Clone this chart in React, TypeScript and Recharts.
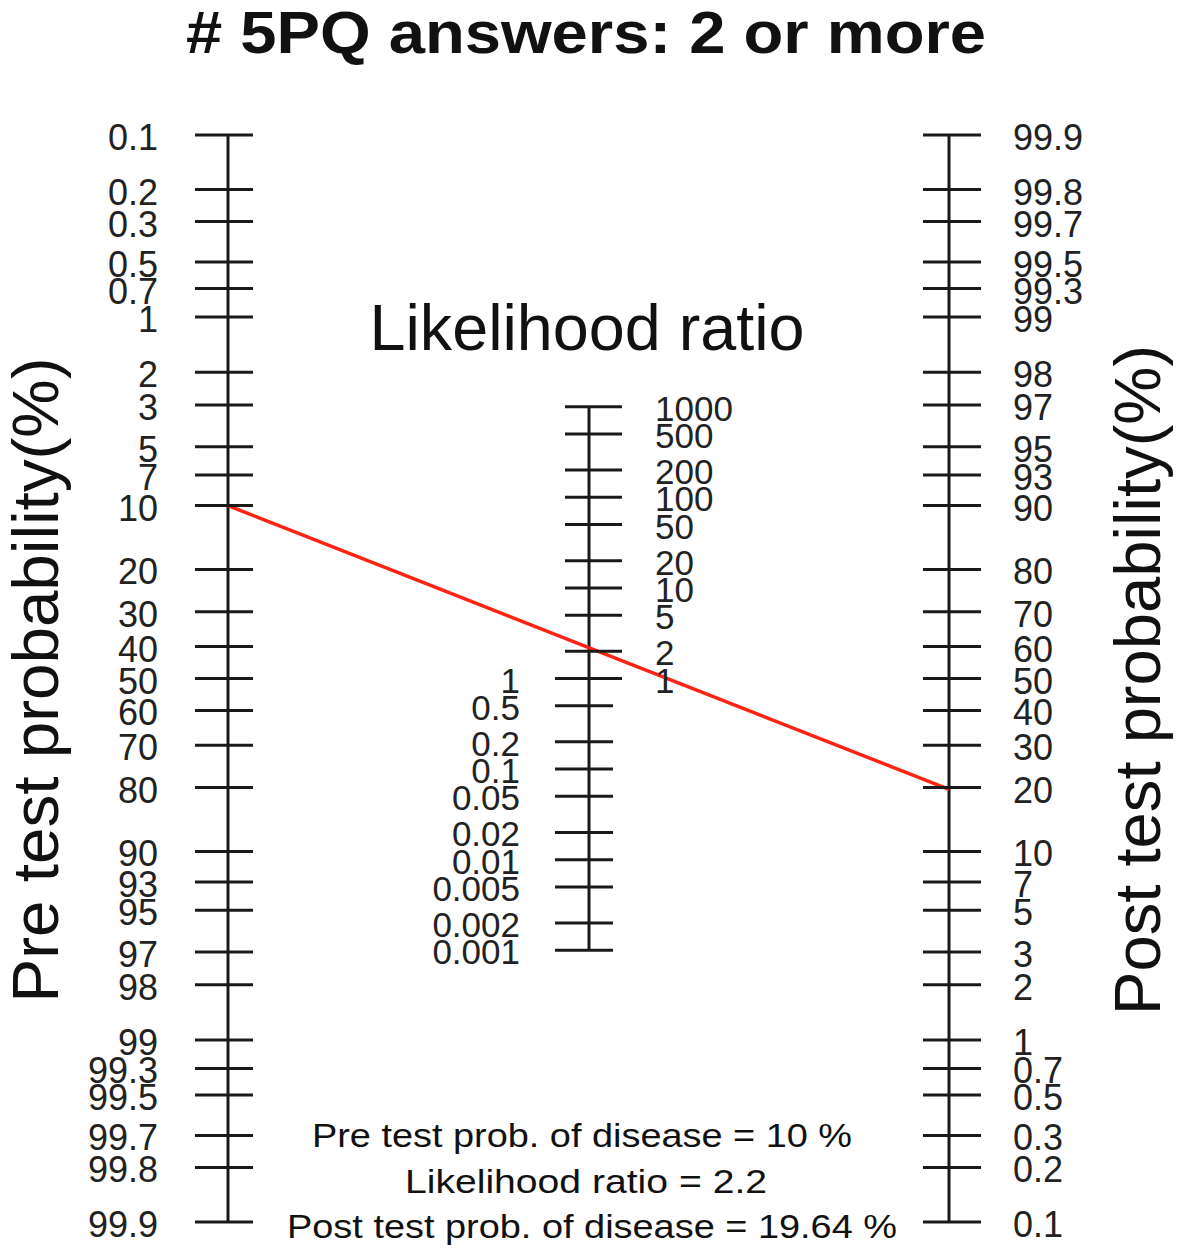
import React from 'react';
import {
  ComposedChart,
  XAxis,
  YAxis,
  Scatter,
  Line,
  ReferenceLine,
  Customized,
} from 'recharts';

// tick values on the three scales
const preTicks = [0.1, 0.2, 0.3, 0.5, 0.7, 1, 2, 3, 5, 7, 10, 20, 30, 40, 50, 60, 70, 80, 90, 93, 95, 97, 98, 99, 99.3, 99.5, 99.7, 99.8, 99.9];
const postTicks = [99.9, 99.8, 99.7, 99.5, 99.3, 99, 98, 97, 95, 93, 90, 80, 70, 60, 50, 40, 30, 20, 10, 7, 5, 3, 2, 1, 0.7, 0.5, 0.3, 0.2, 0.1];
const lrUpperTicks = [1000, 500, 200, 100, 50, 20, 10, 5, 2, 1];
const lrLowerTicks = [1, 0.5, 0.2, 0.1, 0.05, 0.02, 0.01, 0.005, 0.002, 0.001];

// the case drawn on the nomogram
const preTestProb = 10;
const likelihoodRatio = 2.2;
const postTestProb = 19.64;

const W = 1181;
const H = 1252;
const FONT = '"Liberation Sans", Arial, sans-serif';
const INK = '#1a1a1a';

// horizontal placement of the three scales (x domain is 0..W)
const LEFT_X = 228;
const MID_X = 589;
const RIGHT_X = 949;

const logit = (p: number) => Math.log(p / (1 - p));
const LIM = logit(0.999);

// left scale: pre-test prob, 0.1 at top; right scale: post-test, 99.9 at top
// middle: log(LR)/2 so that a straight line joins the three
const preData = preTicks.map(p => ({ x: LEFT_X, y: -logit(p / 100), label: String(p) }));
const postData = postTicks.map(p => ({ x: RIGHT_X, y: logit(p / 100), label: String(p) }));
const lrUpperData = lrUpperTicks.map(v => ({ x: MID_X, y: Math.log(v) / 2, label: String(v) }));
const lrLowerData = lrLowerTicks.map(v => ({ x: MID_X, y: Math.log(v) / 2, label: String(v) }));

const caseLine = [
  { x: LEFT_X, y: -logit(preTestProb / 100) },
  { x: RIGHT_X, y: logit(postTestProb / 100) },
];

const makeTick = (left: number, right: number, side: 'left' | 'right', gap: number, dy: number, size: number) =>
  (props: any) => {
    const { cx, cy, payload } = props;
    return (
      <g>
        <line x1={cx - left} x2={cx + right} y1={cy} y2={cy} stroke={INK} strokeWidth={3} />
        <text
          x={side === 'left' ? cx - gap : cx + gap}
          y={cy + dy}
          textAnchor={side === 'left' ? 'end' : 'start'}
          fontFamily={FONT}
          fontSize={size}
          fill="#222"
        >
          {payload.label}
        </text>
      </g>
    );
  };

const Texts = () => (
  <g fontFamily={FONT} fill="#111" style={{ whiteSpace: 'pre' }}>
    <text x={586} y={53} textAnchor="middle" fontSize={60} fontWeight="bold" textLength={800} lengthAdjust="spacingAndGlyphs">
      # 5PQ answers: 2 or more
    </text>
    <text x={587} y={350} textAnchor="middle" fontSize={65} textLength={435} lengthAdjust="spacingAndGlyphs">
      Likelihood ratio
    </text>
    <text
      transform="translate(58,680) rotate(-90)"
      textAnchor="middle"
      fontSize={65}
      textLength={645}
      lengthAdjust="spacingAndGlyphs"
    >
      Pre test probability(%)
    </text>
    <text
      transform="translate(1160,680) rotate(-90)"
      textAnchor="middle"
      fontSize={65}
      textLength={670}
      lengthAdjust="spacingAndGlyphs"
    >
      Post test probability(%)
    </text>
    <text x={582} y={1147} textAnchor="middle" fontSize={34} textLength={540} lengthAdjust="spacingAndGlyphs">
      {`Pre test prob. of disease = ${preTestProb} %`}
    </text>
    <text x={586} y={1193} textAnchor="middle" fontSize={34} textLength={362} lengthAdjust="spacingAndGlyphs">
      {`Likelihood ratio  = ${likelihoodRatio}`}
    </text>
    <text x={592} y={1238} textAnchor="middle" fontSize={34} textLength={610} lengthAdjust="spacingAndGlyphs">
      {`Post test prob. of disease = ${postTestProb} %`}
    </text>
  </g>
);

const App: React.FC = () => {
  return (
    <div style={{ position: 'absolute', left: 0, top: 0, width: W, height: H, background: '#fff' }}>
      <ComposedChart width={W} height={H} margin={{ top: 135, right: 0, bottom: 30, left: 0 }}>
        <XAxis type="number" dataKey="x" domain={[0, W]} hide />
        <YAxis type="number" domain={[-LIM, LIM]} hide width={0} />

        <ReferenceLine segment={[{ x: LEFT_X, y: LIM }, { x: LEFT_X, y: -LIM }]} stroke={INK} strokeWidth={3} />
        <ReferenceLine segment={[{ x: RIGHT_X, y: LIM }, { x: RIGHT_X, y: -LIM }]} stroke={INK} strokeWidth={3} />
        <ReferenceLine
          segment={[{ x: MID_X, y: Math.log(lrUpperTicks[0]) / 2 }, { x: MID_X, y: Math.log(lrLowerTicks[lrLowerTicks.length - 1]) / 2 }]}
          stroke={INK}
          strokeWidth={3}
        />

        <Scatter data={preData} dataKey="y" isAnimationActive={false} shape={makeTick(33, 25, 'left', 70, 15, 36)} />
        <Scatter data={postData} dataKey="y" isAnimationActive={false} shape={makeTick(26, 32, 'right', 64, 15, 36)} />
        <Scatter data={lrUpperData} dataKey="y" isAnimationActive={false} shape={makeTick(24, 33, 'right', 66, 14, 35)} />
        <Scatter data={lrLowerData} dataKey="y" isAnimationActive={false} shape={makeTick(34, 24, 'left', 69, 14, 35)} />

        <Line data={caseLine} dataKey="y" stroke="#ff2414" strokeWidth={3.5} dot={false} isAnimationActive={false} />

        <Customized component={Texts} />
      </ComposedChart>
    </div>
  );
};

export default App;
